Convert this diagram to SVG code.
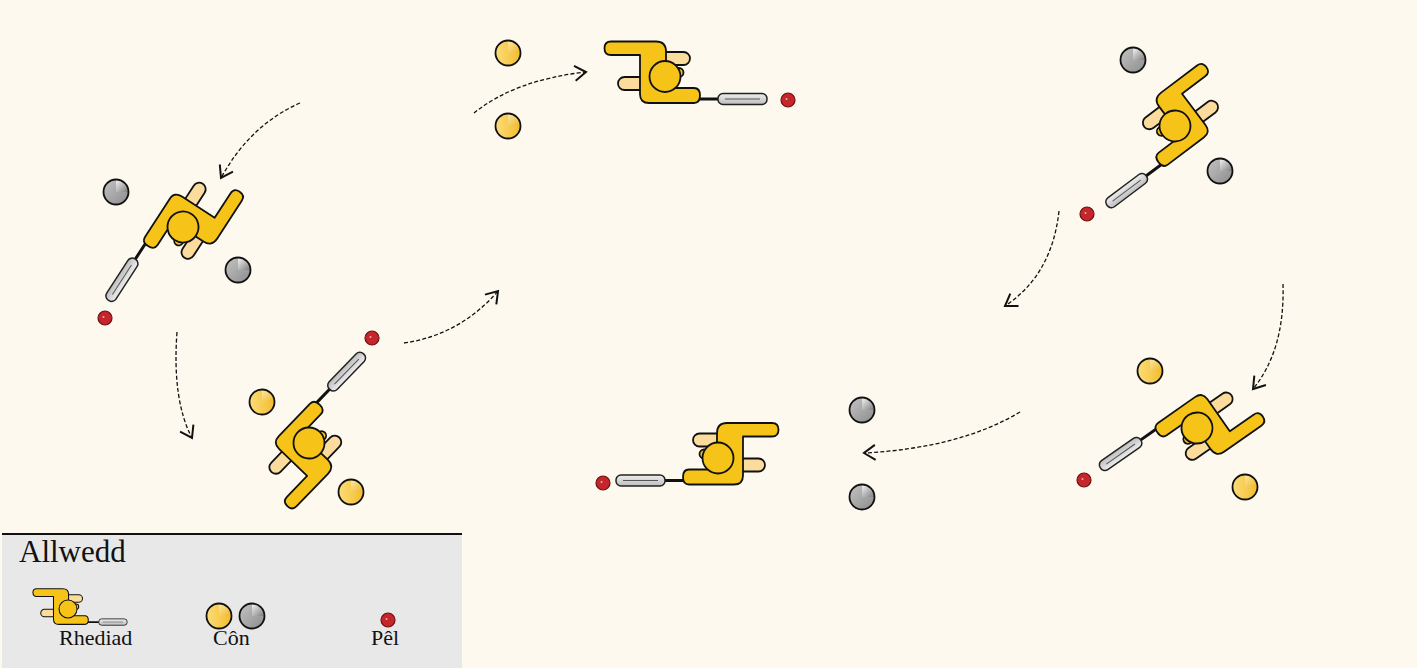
<svg xmlns="http://www.w3.org/2000/svg" width="1417" height="668" viewBox="0 0 1417 668">
  <style>
    .bg { fill: #fdf9ee; }
    .body { fill: #f6c318; stroke: #111; stroke-width: 1.8; stroke-linejoin: round; }
    .leg { fill: #fbdc9c; stroke: #111; stroke-width: 1.8; }
    .head { fill: #f6c318; stroke: #111; stroke-width: 1.8; }
    .blade { fill: url(#bladeGrad); stroke: #222; stroke-width: 1.5; }
    .blade-line { stroke: #555; stroke-width: 1; }
    .handle { stroke: #111; stroke-width: 3; stroke-linecap: round; }
    .ball { fill: #c5262b; stroke: #6e1010; stroke-width: 1.2; }
    .flow { fill: none; stroke: #111; stroke-width: 1.3; stroke-dasharray: 4 2.2; marker-end: url(#chev); }
    .legend-bg { fill: #e8e8e8; }
    .title { font-family: "Liberation Serif", "Times New Roman", serif; font-size: 31px; fill: #111; }
    .label { font-family: "Liberation Serif", "Times New Roman", serif; font-size: 22px; fill: #111; }
  </style>
  <defs>
    <linearGradient id="bladeGrad" x1="0" y1="0" x2="0" y2="1">
      <stop offset="0" stop-color="#eeeeee"/>
      <stop offset="1" stop-color="#bdbdbd"/>
    </linearGradient>
    <linearGradient id="coneYBase" x1="0" y1="0" x2="1" y2="0">
      <stop offset="0" stop-color="#fcdc78"/>
      <stop offset="1" stop-color="#f2bd2e"/>
    </linearGradient>
    <linearGradient id="coneYQuad" x1="0" y1="0" x2="1" y2="1">
      <stop offset="0" stop-color="#fde9a6"/>
      <stop offset="1" stop-color="#efb421"/>
    </linearGradient>
    <linearGradient id="coneGBase" x1="0" y1="0" x2="1" y2="1">
      <stop offset="0" stop-color="#c4c4c4"/>
      <stop offset="1" stop-color="#8c8c8c"/>
    </linearGradient>
    <linearGradient id="coneGQuad" x1="0" y1="0" x2="1" y2="1">
      <stop offset="0" stop-color="#f6f6f6"/>
      <stop offset="1" stop-color="#7a7a7a"/>
    </linearGradient>
    <marker id="chev" markerUnits="userSpaceOnUse" markerWidth="20" markerHeight="20" viewBox="-12 -8 16 16" refX="0" refY="0" orient="auto">
      <path d="M-9,-6 L0,0 L-9,6" fill="none" stroke="#111" stroke-width="1.6"/>
    </marker>

    <!-- batter seen from above: head at origin, bat along +x -->
    <g id="batter">
      <rect class="leg" x="-5" y="-24.5" width="30" height="13" rx="6.5"/>
      <rect class="leg" x="-47" y="0.5" width="32" height="13" rx="6.5"/>
      <line class="handle" x1="34" y1="22.5" x2="55" y2="22.5"/>
      <rect class="blade" x="53" y="17" width="49" height="11" rx="5"/>
      <line class="blade-line" x1="60" y1="22.5" x2="95" y2="22.5"/>
      <path class="body" d="M-54,-35 L-9,-35 Q1,-35 1,-25 L1,11.5 L29,11.5 Q35,11.5 35,19 Q35,26.5 29,26.5 L-16,26.5 Q-25,26.5 -25,17.5 L-25,-21.5 L-54,-21.5 Q-60.5,-21.5 -60.5,-28.25 Q-60.5,-35 -54,-35 Z"/>
      <circle class="head" cx="14" cy="-4" r="4.5"/>
      <circle class="head" cx="0" cy="0" r="15.5"/>
    </g>

    <g id="coneY">
      <circle r="12.5" fill="url(#coneYBase)"/>
      <path d="M0,0 L0,-12.5 A12.5,12.5 0 0 1 12.5,0 Z" fill="url(#coneYQuad)"/>
      <circle r="12.5" fill="none" stroke="#111" stroke-width="1.8"/>
    </g>
    <g id="coneG">
      <circle r="12.5" fill="url(#coneGBase)"/>
      <path d="M0,0 L0,-12.5 A12.5,12.5 0 0 1 12.5,0 Z" fill="url(#coneGQuad)"/>
      <circle r="12.5" fill="none" stroke="#111" stroke-width="1.8"/>
    </g>
    <g id="ballShape">
      <circle class="ball" r="7"/>
      <circle r="1" cx="-1.5" cy="-1" fill="#f3b0a0"/>
    </g>
  </defs>

  <rect class="bg" x="0" y="0" width="1417" height="668"/>

  <!-- movement arrows -->
  <g id="connectors">
    <path class="flow" d="M300,103 Q250,125 221,178"/>
    <path class="flow" d="M177,332 Q172,400 192,438"/>
    <path class="flow" d="M404,343 Q460,335 498,291"/>
    <path class="flow" d="M474,113 Q515,80 586,72"/>
    <path class="flow" d="M1059,211 Q1052,275 1005,306"/>
    <path class="flow" d="M1283,284 Q1285,350 1253,389"/>
    <path class="flow" d="M1020,412 Q960,448 864,453"/>
  </g>

  <!-- batters -->
  <g id="batter-top"><use href="#batter" transform="translate(665,76.5)"/></g>
  <g id="batter-left"><use href="#batter" transform="translate(183,227) rotate(123)"/></g>
  <g id="batter-lower-left"><use href="#batter" transform="translate(309,443) rotate(-46) scale(1,-1)"/></g>
  <g id="batter-upper-right"><use href="#batter" transform="translate(1175,126) rotate(143) scale(1,-1)"/></g>
  <g id="batter-lower-right"><use href="#batter" transform="translate(1197,428) rotate(145)"/></g>
  <g id="batter-bottom"><use href="#batter" transform="translate(718,458) scale(-1,1)"/></g>

  <!-- cones -->
  <g id="cone-1"><use href="#coneY" x="508" y="53"/></g>
  <g id="cone-2"><use href="#coneY" x="508" y="126"/></g>
  <g id="cone-3"><use href="#coneG" x="116" y="192"/></g>
  <g id="cone-4"><use href="#coneG" x="238" y="270"/></g>
  <g id="cone-5"><use href="#coneY" x="262" y="402"/></g>
  <g id="cone-6"><use href="#coneY" x="351" y="492"/></g>
  <g id="cone-7"><use href="#coneG" x="1133" y="60"/></g>
  <g id="cone-8"><use href="#coneG" x="1220" y="171"/></g>
  <g id="cone-9"><use href="#coneY" x="1150" y="371"/></g>
  <g id="cone-10"><use href="#coneY" x="1245" y="487"/></g>
  <g id="cone-11"><use href="#coneG" x="862" y="410"/></g>
  <g id="cone-12"><use href="#coneG" x="862" y="497"/></g>

  <!-- balls -->
  <g id="ball-1"><use href="#ballShape" x="788" y="100"/></g>
  <g id="ball-2"><use href="#ballShape" x="105" y="318"/></g>
  <g id="ball-3"><use href="#ballShape" x="372" y="338"/></g>
  <g id="ball-4"><use href="#ballShape" x="1087" y="214"/></g>
  <g id="ball-5"><use href="#ballShape" x="1084" y="480"/></g>
  <g id="ball-6"><use href="#ballShape" x="603" y="483"/></g>

  <!-- key -->
  <g id="legend">
    <rect class="legend-bg" x="2" y="534" width="460" height="134"/>
    <line x1="2" y1="534" x2="462" y2="534" stroke="#111" stroke-width="2.2"/>
    <text class="title" x="19" y="562">Allwedd</text>
    <use href="#batter" transform="translate(68,609) scale(0.58)"/>
    <text class="label" x="59" y="645">Rhediad</text>
    <use href="#coneY" x="219" y="616"/>
    <use href="#coneG" x="252" y="616"/>
    <text class="label" x="213" y="645">Côn</text>
    <use href="#ballShape" x="388" y="620"/>
    <text class="label" x="371" y="645">Pêl</text>
  </g>
</svg>
